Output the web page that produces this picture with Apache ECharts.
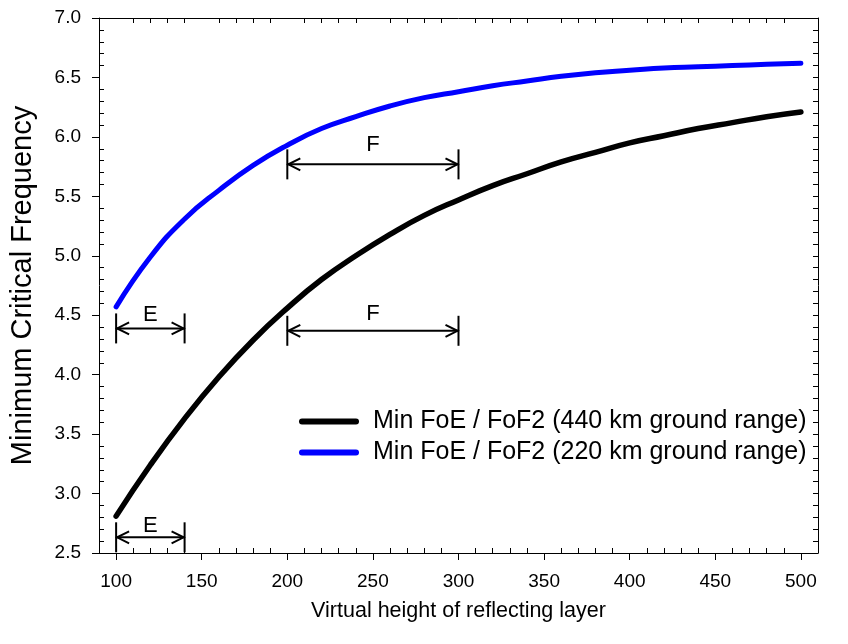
<!DOCTYPE html>
<html>
<head>
<meta charset="utf-8">
<script src="https://cdn.jsdelivr.net/npm/echarts@6/dist/echarts.min.js"></script>
<style>
html,body{margin:0;padding:0;background:#fff;}
#chart{width:848px;height:644px;}
</style>
</head>
<body>
<div id="chart"></div>
<script>
// ---- data ----
const heights  = [100,120,140,160,180,200,220,240,260,280,300,320,340,360,380,400,420,440,460,480,500];
const range440 = [2.81,3.24,3.63,3.98,4.29,4.56,4.80,5.00,5.18,5.34,5.47,5.59,5.69,5.79,5.87,5.95,6.01,6.07,6.12,6.17,6.21];
const range220 = [4.57,4.99,5.31,5.55,5.76,5.93,6.07,6.17,6.26,6.33,6.38,6.43,6.47,6.51,6.54,6.56,6.58,6.59,6.60,6.61,6.62];
const seriesNames = ['Min FoE / FoF2 (440 km ground range)','Min FoE / FoF2 (220 km ground range)'];

// layer span annotations
const spanStart = [100,100,200,200];
const spanEnd   = [140,140,300,300];
const spanY     = [2.632,4.389,4.369,5.769];
const spanLabelY= [2.729,4.505,4.509,5.936];
const spanLabel = ['E','E','F','F'];

// axes ticks
const xMin = 90, xMax = 510, yMin = 2.5, yMax = 7.0;
const xMajorTicks = [100,150,200,250,300,350,400,450,500];
const xMinorTicks = [110,120,130,140,160,170,180,190,210,220,230,240,260,270,280,290,310,320,330,340,360,370,380,390,410,420,430,440,460,470,480,490];
const yMajorTicks = [2.5,3.0,3.5,4.0,4.5,5.0,5.5,6.0,6.5,7.0];
const yMinorTicks = [2.6,2.7,2.8,2.9,3.1,3.2,3.3,3.4,3.6,3.7,3.8,3.9,4.1,4.2,4.3,4.4,4.6,4.7,4.8,4.9,5.1,5.2,5.3,5.4,5.6,5.7,5.8,5.9,6.1,6.2,6.3,6.4,6.6,6.7,6.8,6.9];

const FONT = '"Liberation Sans", Arial, sans-serif';
const chart = echarts.init(document.getElementById('chart'), null, {renderer:'canvas'});

const pair = (xs, ys) => xs.map((x,i)=>[x, ys[i]]);
const spanData = spanStart.map((s,i)=>[s, spanEnd[i], spanY[i], spanLabelY[i]]);

const noSplit = {show:false};
const axLine = {show:true, lineStyle:{color:'#000', width:1}};
const pill = 'path://M3,0H57A3,3 0 0 1 57,6H3A3,3 0 0 1 3,0Z';

const option = {
  animation:false,
  backgroundColor:'#fff',
  textStyle:{fontFamily:FONT},
  grid:{left:98, right:30, top:18, bottom:91, containLabel:false},
  legend:{
    orient:'vertical', left:294, top:404, itemGap:6,
    itemWidth:60, itemHeight:6, icon:pill,
    textStyle:{fontFamily:FONT, fontSize:25, color:'#000', padding:[0,0,0,9]},
    data:seriesNames
  },
  xAxis:[
    {type:'value', position:'bottom', min:xMin, max:xMax,
     name:'Virtual height of reflecting layer', nameLocation:'middle', nameGap:47,
     nameTextStyle:{fontFamily:FONT, fontSize:21.5, color:'#000'},
     axisLine:axLine,
     axisTick:{show:true, inside:false, length:7, lineStyle:{color:'#000', width:1}, customValues:xMajorTicks},
     axisLabel:{show:true, margin:19, fontFamily:FONT, fontSize:19, color:'#000', customValues:xMajorTicks},
     splitLine:noSplit},
    {type:'value', position:'bottom', min:xMin, max:xMax,
     axisLine:{show:false},
     axisTick:{show:true, inside:true, length:5, lineStyle:{color:'#000', width:1}, customValues:xMinorTicks},
     axisLabel:{show:false}, splitLine:noSplit},
    {type:'value', position:'top', min:xMin, max:xMax,
     axisLine:axLine,
     axisTick:{show:true, inside:true, length:5, lineStyle:{color:'#000', width:1}, customValues:xMinorTicks},
     axisLabel:{show:false}, splitLine:noSplit}
  ],
  yAxis:[
    {type:'value', position:'left', min:yMin, max:yMax,
     name:'Minimum Critical Frequency', nameLocation:'middle', nameGap:62, nameRotate:90,
     nameTextStyle:{fontFamily:FONT, fontSize:29, color:'#000'},
     axisLine:axLine,
     axisTick:{show:true, inside:false, length:7, lineStyle:{color:'#000', width:1}, customValues:yMajorTicks},
     axisLabel:{show:true, margin:18, fontFamily:FONT, fontSize:19, color:'#000', customValues:yMajorTicks,
       formatter:v=>Number(v).toFixed(1)},
     splitLine:noSplit},
    {type:'value', position:'left', min:yMin, max:yMax,
     axisLine:{show:false},
     axisTick:{show:true, inside:true, length:5, lineStyle:{color:'#000', width:1}, customValues:yMinorTicks},
     axisLabel:{show:false}, splitLine:noSplit},
    {type:'value', position:'right', min:yMin, max:yMax,
     axisLine:axLine,
     axisTick:{show:true, inside:true, length:5, lineStyle:{color:'#000', width:1}, customValues:yMinorTicks.concat(yMajorTicks)},
     axisLabel:{show:false}, splitLine:noSplit}
  ],
  series:[
    {name:seriesNames[0], type:'line', xAxisIndex:0, yAxisIndex:0, data:pair(heights, range440),
     smooth:0.5, symbol:'none', lineStyle:{color:'#000', width:5.5, cap:'round'}, itemStyle:{color:'#000'}},
    {name:seriesNames[1], type:'line', xAxisIndex:0, yAxisIndex:0, data:pair(heights, range220),
     smooth:0.5, symbol:'none', lineStyle:{color:'#0000ff', width:5, cap:'round'}, itemStyle:{color:'#0000ff'}},
    {type:'custom', xAxisIndex:0, yAxisIndex:0, data:spanData, clip:false, silent:true,
     renderItem:function(params, api){
       const x1 = api.value(0), x2 = api.value(1), y = api.value(2), ly = api.value(3);
       const p1 = api.coord([x1, y]), p2 = api.coord([x2, y]);
       const lp = api.coord([(x1+x2)/2, ly]);
       const st = {stroke:'#000', lineWidth:2, fill:null};
       const h = 15, ah = 13, aw = 6;
       return {type:'group', children:[
         {type:'line', shape:{x1:p1[0], y1:p1[1], x2:p2[0], y2:p2[1]}, style:st},
         {type:'line', shape:{x1:p1[0], y1:p1[1]-h, x2:p1[0], y2:p1[1]+h}, style:st},
         {type:'line', shape:{x1:p2[0], y1:p2[1]-h, x2:p2[0], y2:p2[1]+h}, style:st},
         {type:'polyline', shape:{points:[[p1[0]+ah, p1[1]-aw],[p1[0]+1, p1[1]],[p1[0]+ah, p1[1]+aw]]}, style:st},
         {type:'polyline', shape:{points:[[p2[0]-ah, p2[1]-aw],[p2[0]-1, p2[1]],[p2[0]-ah, p2[1]+aw]]}, style:st},
         {type:'text', style:{text:spanLabel[params.dataIndex], x:lp[0], y:lp[1], align:'center', verticalAlign:'middle',
           font:'22px "Liberation Sans", Arial, sans-serif', fill:'#000'}}
       ]};
     }}
  ]
};
chart.setOption(option);
</script>
</body>
</html>
